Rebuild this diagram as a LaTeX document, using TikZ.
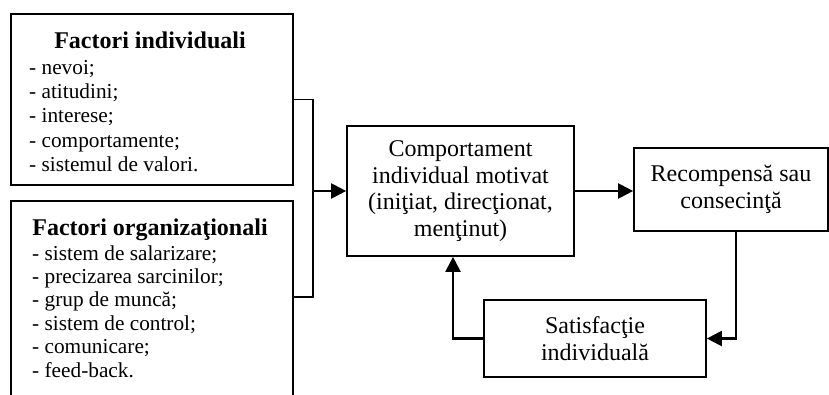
\documentclass[tikz,border=0pt]{standalone}
\usepackage{fontspec}
\setmainfont{Liberation Serif}
\usetikzlibrary{arrows.meta}
\begin{document}
\begin{tikzpicture}[x=1pt,y=-1pt,
  box/.style={draw,line width=1.7pt,inner sep=0pt},
  conn/.style={line width=1.7pt},
  arr/.style={line width=2.2pt,-{Triangle[length=15pt,width=15pt]}},
  small/.style={font=\fontsize{21.3}{24}\selectfont},
  big/.style={font=\fontsize{24}{26.5}\selectfont},
  title/.style={font=\fontsize{24}{27}\selectfont\bfseries},
]
\useasboundingbox (0,0) rectangle (829,394);
\begin{scope}
\clip (0,0) rectangle (829,394);
\node[box,minimum width=282pt,minimum height=171pt] (fi) at (152,99.5) {};
\node[box,minimum width=282pt,minimum height=219pt] (fo) at (152,310.5) {};
\end{scope}
\node[title,anchor=base] (fit) at (150,48) {Factori individuali};
\foreach \t [count=\i] in {- nevoi;,- atitudini;,- interese;,- comportamente;,- sistemul de valori.}
  \node[small,anchor=base west,inner sep=0pt] (fil\i) at (29,{74+24.4*(\i-1)}) {\t};
\node[title,anchor=base] (fot) at (150,235) {Factori organizaţionali};
\foreach \t [count=\i] in {- sistem de salarizare;,- precizarea sarcinilor;,- grup de muncă;,- sistem de control;,- comunicare;,- feed-back.}
  \node[small,anchor=base west,inner sep=0pt] (fol\i) at (32,{260+23.4*(\i-1)}) {\t};
\node[box,big,align=center,minimum width=227pt,minimum height=130pt] (cb) at (460.5,191) {Comportament\\individual motivat\\(iniţiat, direcţionat,\\menţinut)};
\node[box,big,align=center,minimum width=194pt,minimum height=83pt] (rc) at (731,189.5) {Recompensă sau\\consecinţă};
\node[box,big,align=center,minimum width=222pt,minimum height=77pt] (sf) at (595,338.5) {Satisfacţie\\individuală};
\coordinate (jt) at (313,99.5);
\coordinate (jb) at (313,297);
\draw[conn] (fi.east) -- (jt) -- (jb) -- (fo.east |- jb);
\draw[arr] (jt |- cb.west) -- (cb.west);
\draw[arr] (cb.east) -- (cb.east -| rc.west);
\coordinate (rd) at (736,0);
\coordinate (lu) at (453,0);
\draw[arr] (rc.south -| rd) |- (sf.east);
\draw[arr] (sf.west) -| (cb.south -| lu);
\end{tikzpicture}
\end{document}
